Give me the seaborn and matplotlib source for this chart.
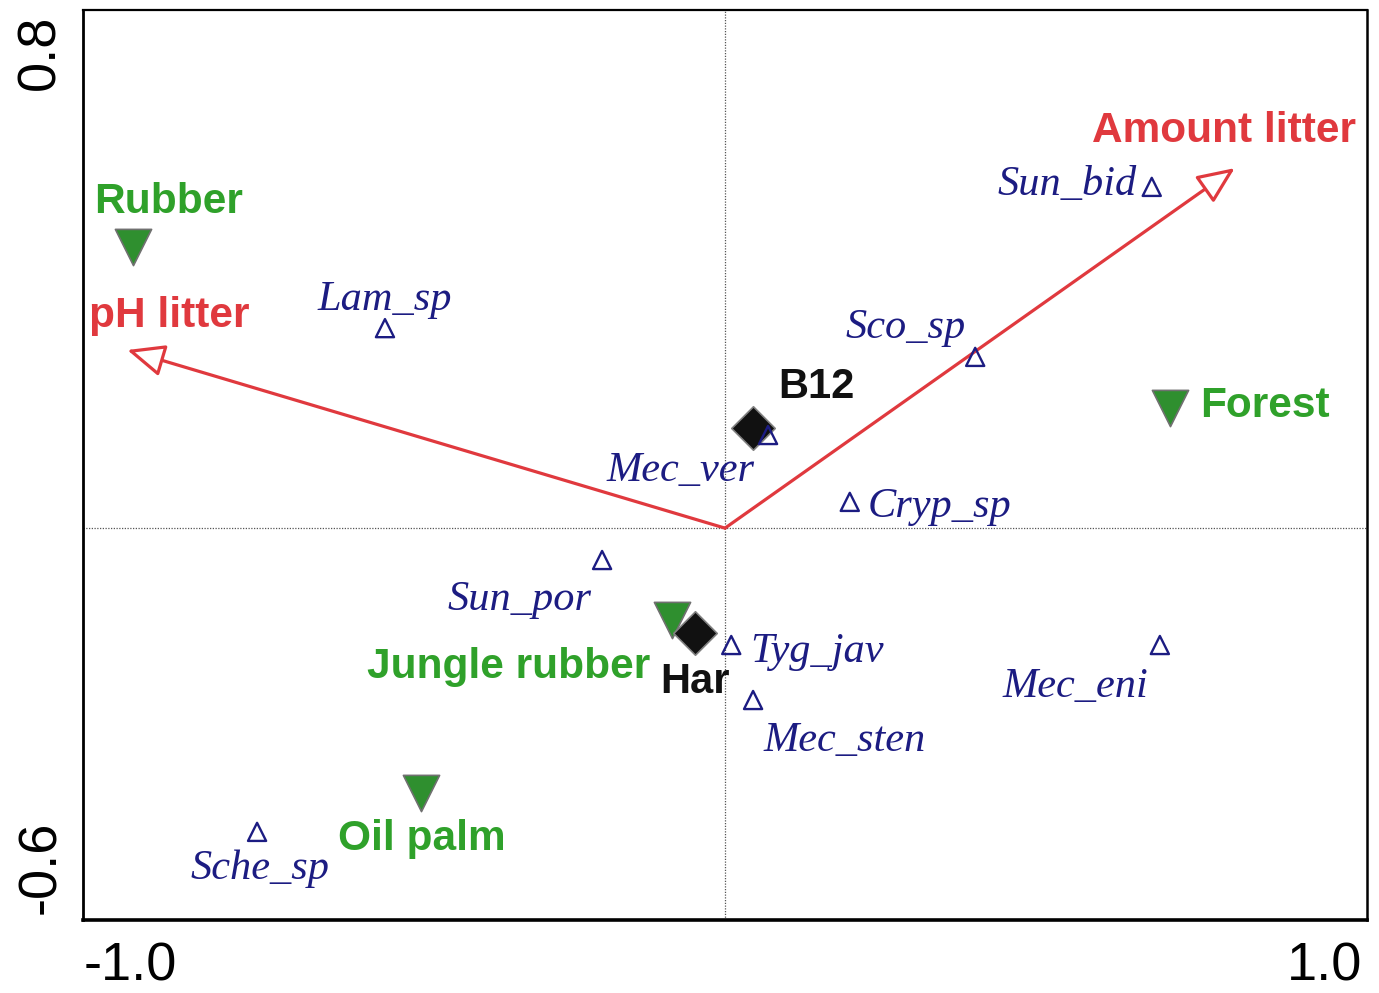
import pandas as pd
import seaborn as sns
import matplotlib.pyplot as plt
from matplotlib.transforms import ScaledTranslation

# species scores (open triangles)
species = ['Sun_bid', 'Lam_sp', 'Sco_sp', 'Mec_ver', 'Cryp_sp',
           'Sun_por', 'Tyg_jav', 'Mec_sten', 'Mec_eni', 'Sche_sp']
species_x = [0.684, -0.545, 0.401, 0.069, 0.200, -0.197, 0.010, 0.045, 0.697, -0.750]
species_y = [0.546, 0.320, 0.274, 0.149, 0.042, -0.051, -0.187, -0.275, -0.187, -0.486]

# land-use systems (filled down triangles)
sites = ['Rubber', 'Forest', 'Jungle rubber', 'Oil palm']
sites_x = [-0.949, 0.713, -0.085, -0.487]
sites_y = [0.450, 0.192, -0.147, -0.424]

# sample points (black diamonds)
samples = ['B12', 'Har']
samples_x = [0.045, -0.048]
samples_y = [0.160, -0.168]

# environmental arrows
env = ['pH litter', 'Amount litter']
env_x = [-0.958, 0.817]
env_y = [0.285, 0.576]

# label offsets from each point (pixels), and alignment
sp_off = {'Sun_bid': (-15, 8, 'right'), 'Lam_sp': (-67, -18, 'left'),
          'Sco_sp': (-130, -19, 'left'), 'Mec_ver': (-162, 46, 'left'),
          'Cryp_sp': (18, 15, 'left'), 'Sun_por': (-155, 50, 'left'),
          'Tyg_jav': (19, 17, 'left'), 'Mec_sten': (10, 51, 'left'),
          'Mec_eni': (-12, 52, 'right'), 'Sche_sp': (-67, 47, 'left')}
site_off = {'Rubber': (-39, -34, 'left'), 'Forest': (30, 9, 'left'),
            'Jungle rubber': (-22, 58, 'right'), 'Oil palm': (-83, 57, 'left')}
samp_off = {'B12': (25, -30, 'left'), 'Har': (-35, 60, 'left')}
env_off = {'pH litter': (-38, -23, 'left'), 'Amount litter': (-143, -26, 'left')}

navy = '#1c1c82'
green_txt = '#2fa12a'
green_mk = '#2f8f2f'
red = '#e0393e'
DPI = 100
PX = 72 / DPI

df_sp = pd.DataFrame({'name': species, 'x': species_x, 'y': species_y})
df_site = pd.DataFrame({'name': sites, 'x': sites_x, 'y': sites_y})
df_samp = pd.DataFrame({'name': samples, 'x': samples_x, 'y': samples_y})

sns.set_theme(style="white")
plt.rcParams['font.family'] = ['Liberation Sans', 'DejaVu Sans']

fig = plt.figure(figsize=(13.79, 9.93), dpi=DPI)
ax = fig.add_axes([83 / 1379, 1 - 920 / 993, (1367 - 83) / 1379, (920 - 10) / 993])

ax.axhline(0, color='#555555', lw=0.9, ls=(0, (1, 1.2)), zorder=1)
ax.axvline(0, color='#555555', lw=0.9, ls=(0, (1, 1.2)), zorder=1)

# arrows
for name, x, y in zip(env, env_x, env_y):
    ax.annotate('', xy=(x, y), xytext=(0, 0),
                arrowprops=dict(arrowstyle='-|>,head_length=1.15,head_width=0.5',
                                lw=2.3, ec=red, fc='white', mutation_scale=20,
                                shrinkA=0, shrinkB=0), zorder=2)
    dx, dy, ha = env_off[name]
    ax.annotate(name, (x, y), xytext=(dx * PX, -dy * PX), textcoords='offset points',
                ha=ha, va='baseline', color=red, fontsize=30.5, fontweight='bold')

sns.scatterplot(data=df_site, x='x', y='y', marker='v', s=680, color=green_mk,
                edgecolor='#707070', linewidth=1.2, ax=ax, zorder=3, legend=False)
sns.scatterplot(data=df_samp, x='x', y='y', marker='D', s=490, color='#111111',
                edgecolor='#808080', linewidth=1.2, ax=ax, zorder=4, legend=False)
sns.scatterplot(data=df_sp, x='x', y='y', marker='^', s=170, facecolor='none',
                edgecolor=navy, linewidth=1.7, ax=ax, zorder=5, legend=False)

for name, x, y in zip(species, species_x, species_y):
    dx, dy, ha = sp_off[name]
    ax.annotate(name, (x, y), xytext=(dx * PX, -dy * PX), textcoords='offset points',
                ha=ha, va='baseline', color=navy, fontsize=30.5, style='italic',
                family='Liberation Serif', zorder=6)
for name, x, y in zip(sites, sites_x, sites_y):
    dx, dy, ha = site_off[name]
    ax.annotate(name, (x, y), xytext=(dx * PX, -dy * PX), textcoords='offset points',
                ha=ha, va='baseline', color=green_txt, fontsize=30.5, fontweight='bold',
                zorder=6)
for name, x, y in zip(samples, samples_x, samples_y):
    dx, dy, ha = samp_off[name]
    ax.annotate(name, (x, y), xytext=(dx * PX, -dy * PX), textcoords='offset points',
                ha=ha, va='baseline', color='#111111', fontsize=30, fontweight='bold',
                zorder=6)

ax.set_xlim(-1.029, 1.029)
ax.set_ylim(-0.627, 0.829)
ax.set_xlabel('')
ax.set_ylabel('')

ax.set_xticks([-1.0, -0.5, 0.0, 0.5, 1.0])
ax.set_xticklabels(['-1.0', '', '', '', '1.0'])
ax.set_yticks([-0.6, -0.4, -0.2, 0.0, 0.2, 0.4, 0.6, 0.8])
ax.set_yticklabels(['-0.6', '', '', '', '', '', '', '0.8'], rotation=90, va='center')
ax.tick_params(axis='both', direction='inout', length=9, width=1.5, color='black',
               labelsize=39, labelcolor='black')
ax.tick_params(axis='x', pad=11)
ax.tick_params(axis='y', pad=8)

xl = ax.get_xticklabels()
xl[0].set_transform(xl[0].get_transform() + ScaledTranslation(29 / DPI, 0, fig.dpi_scale_trans))
xl[-1].set_transform(xl[-1].get_transform() + ScaledTranslation(-24 / DPI, 0, fig.dpi_scale_trans))
yl = ax.get_yticklabels()
yl[0].set_transform(yl[0].get_transform() + ScaledTranslation(0, 36 / DPI, fig.dpi_scale_trans))
yl[-1].set_transform(yl[-1].get_transform() + ScaledTranslation(0, -24 / DPI, fig.dpi_scale_trans))

for side, lw in [('left', 2.0), ('bottom', 2.6), ('top', 1.6), ('right', 1.8)]:
    ax.spines[side].set_visible(True)
    ax.spines[side].set_color('black')
    ax.spines[side].set_linewidth(lw)

fig.savefig('out.png', dpi=DPI)
